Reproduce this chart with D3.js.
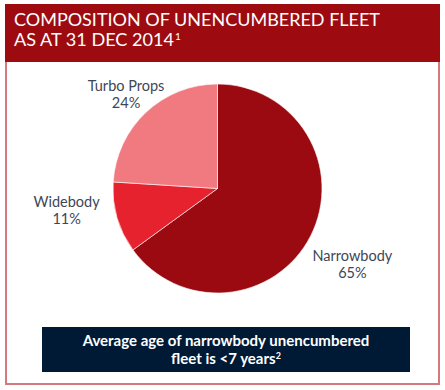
<!DOCTYPE html>
<html><head><meta charset="utf-8">
<script src="https://cdn.jsdelivr.net/npm/d3@7"></script>
<style>body{margin:0;background:#fff}svg{display:block}</style>
</head><body>
<script>
const categories = ["Narrowbody", "Widebody", "Turbo Props"];
const shares = [65, 11, 24];
const colors = ["#9b0a11", "#e5222e", "#f07a80"];
const titleLines = ["COMPOSITION OF UNENCUMBERED FLEET", "AS AT 31 DEC 2014"];
const noteLines = ["Average age of narrowbody unencumbered", "fleet is <7 years"];

const W = 445, H = 390;
const svg = d3.select("body").append("svg").attr("width", W).attr("height", H);
const font = "Lato, 'Open Sans', sans-serif";

// frame
svg.append("rect").attr("x", 6).attr("y", 5).attr("width", 433).attr("height", 379)
  .attr("fill", "#fff").attr("stroke", "#d47a7e").attr("stroke-width", 2);
svg.append("rect").attr("x", 5).attr("y", 4).attr("width", 435).attr("height", 58).attr("fill", "#9d0b11");

svg.append("text").attr("x", 14).attr("y", 26).attr("fill", "#fff")
  .style("font-family", font).style("font-size", "18px").text(titleLines[0])
  .attr("textLength", 366).attr("lengthAdjust", "spacingAndGlyphs");
svg.append("text").attr("x", 14).attr("y", 46).attr("fill", "#fff")
  .style("font-family", font).style("font-size", "18px").text(titleLines[1])
  .attr("textLength", 160).attr("lengthAdjust", "spacingAndGlyphs");
svg.append("text").attr("x", 14 + 161).attr("y", 40).attr("fill", "#fff")
  .style("font-family", font).style("font-size", "10px").text("1");

// pie
const cx = 217.5, cy = 188.5, r = 104.5;
const pie = d3.pie().sort(null).value(d => d)(shares);
const arc = d3.arc().innerRadius(0).outerRadius(r);
const g = svg.append("g").attr("transform", `translate(${cx},${cy})`);
g.selectAll("path").data(pie).join("path").attr("d", arc).attr("fill", (d, i) => colors[i])
  .attr("stroke", "#fff").attr("stroke-width", 0.6);

const labelRadius = [157, 154, 138];
const nudge = [[-5, 4], [-3, -21], [3, 6]];
pie.forEach((d, i) => {
  const a = (d.startAngle + d.endAngle) / 2;
  const x = Math.sin(a) * labelRadius[i] + nudge[i][0];
  const y = -Math.cos(a) * labelRadius[i] + nudge[i][1];
  const t = g.append("text").attr("text-anchor", "middle").attr("fill", "#3e4655")
    .style("font-family", font).style("font-size", "14.5px");
  t.append("tspan").attr("x", x).attr("y", y - 3).text(categories[i]);
  t.append("tspan").attr("x", x).attr("y", y + 14).text(d3.format(".0f")(shares[i]) + "%");
});

// note box
svg.append("rect").attr("x", 42).attr("y", 327).attr("width", 368).attr("height", 45).attr("fill", "#001a36");
svg.append("text").attr("x", 226).attr("y", 346).attr("text-anchor", "middle").attr("fill", "#fff")
  .style("font-family", font).style("font-size", "15px").style("font-weight", "bold").text(noteLines[0]);
const n2 = svg.append("text").attr("x", 226).attr("y", 364).attr("text-anchor", "middle").attr("fill", "#fff")
  .style("font-family", font).style("font-size", "15px").style("font-weight", "bold");
n2.append("tspan").text(noteLines[1]);
n2.append("tspan").text("2").attr("dy", -5).style("font-size", "9px");
</script>
</body></html>
